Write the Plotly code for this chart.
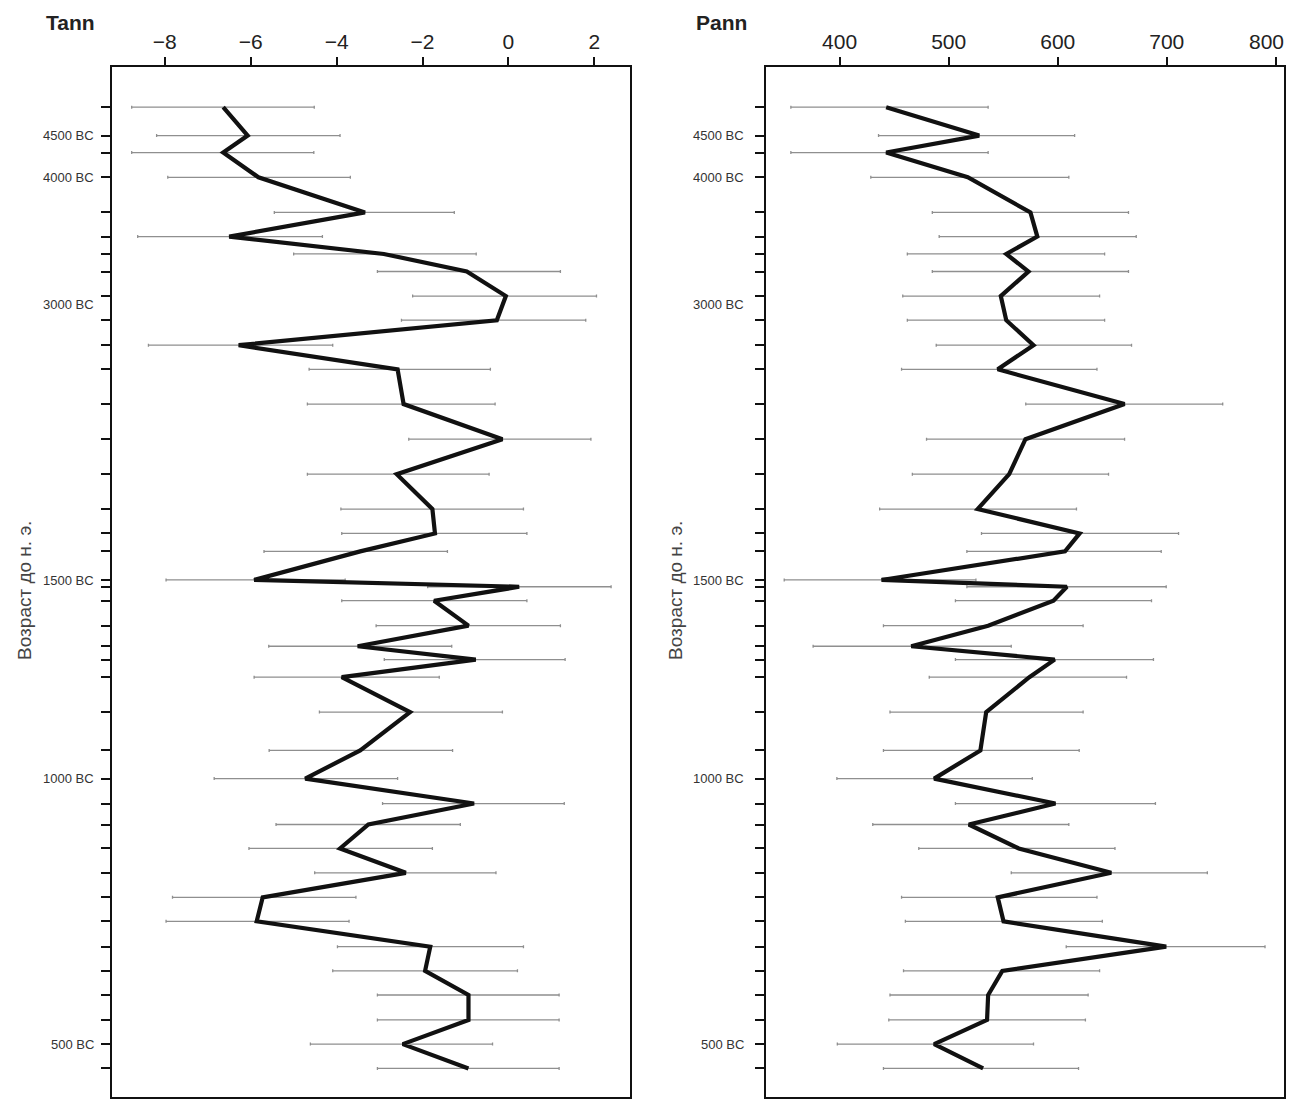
import plotly.graph_objects as go

# page is rendered with an 8px body margin, so the figure is offset by it
OFF = 8
W, H = 1296 - 2 * OFF, 1107 - 2 * OFF

# Sample depths (arbitrary depth units), one per reconstructed sample
depth = [3.7, 17.9, 26.4, 38.8, 56.4, 68.5, 77.2, 86.0, 98.3, 110.4,
         122.9, 135.0, 152.4, 170.0, 187.5, 205.0, 217.2, 226.2, 240.5, 243.9,
         250.9, 263.4, 273.7, 280.4, 289.2, 306.7, 325.9, 340.0, 352.5, 363.0,
         375.0, 387.2, 399.5, 411.5, 424.2, 436.3, 448.4, 460.9, 473.0, 485.2]

# Age tick labels (depth position, text)
age_depth = [17.9, 38.8, 102.5, 241.0, 340.0, 473.0]
age_text = ["4500 BC", "4000 BC", "3000 BC", "1500 BC", "1000 BC", "500 BC"]

# x tick values
tann_ticks = [-8, -6, -4, -2, 0, 2]
pann_ticks = [400, 500, 600, 700, 800]

# Tann: mean annual temperature reconstruction (°C)
tann = [-6.64, -6.07, -6.64, -5.82, -3.34, -6.50, -2.90, -0.97, -0.06, -0.27,
        -6.28, -2.58, -2.44, -0.14, -2.60, -1.77, -1.71, -3.45, -5.92, 0.25,
        -1.73, -0.93, -3.51, -0.76, -3.88, -2.29, -3.45, -4.73, -0.80, -3.26,
        -3.92, -2.39, -5.72, -5.86, -1.82, -1.94, -0.93, -0.93, -2.46, -0.93]
tann_low = [-8.77, -8.19, -8.77, -7.93, -5.45, -8.63, -5.00, -3.05, -2.23, -2.49,
            -8.38, -4.64, -4.68, -2.32, -4.68, -3.90, -3.88, -5.69, -7.97, -1.88,
            -3.88, -3.08, -5.58, -2.89, -5.92, -4.40, -5.57, -6.85, -2.93, -5.41,
            -6.04, -4.51, -7.82, -7.97, -3.98, -4.09, -3.05, -3.05, -4.61, -3.05]
tann_high = [-4.52, -3.92, -4.53, -3.68, -1.26, -4.33, -0.75, 1.21, 2.05, 1.80,
             -4.09, -0.42, -0.31, 1.92, -0.45, 0.35, 0.43, -1.42, -3.80, 2.39,
             0.43, 1.21, -1.32, 1.32, -1.61, -0.14, -1.30, -2.58, 1.30, -1.12,
             -1.77, -0.29, -3.55, -3.71, 0.35, 0.21, 1.18, 1.18, -0.37, 1.18]

# Pann: annual precipitation reconstruction (mm)
pann = [442.7, 528.0, 442.7, 517.5, 575.0, 581.3, 552.8, 573.2, 547.8, 552.8,
        577.8, 545.0, 661.3, 570.4, 555.5, 526.6, 620.1, 606.7, 438.4, 608.4,
        596.1, 536.2, 465.7, 597.2, 574.0, 534.4, 529.1, 486.7, 597.9, 518.5,
        564.3, 649.1, 545.0, 550.3, 699.5, 549.2, 536.2, 535.2, 486.7, 531.6]
pann_low = [355.3, 435.7, 355.3, 428.6, 485.0, 491.3, 462.1, 485.0, 457.9, 462.1,
            488.6, 456.8, 570.7, 479.7, 466.7, 436.7, 530.1, 516.7, 349.2, 516.7,
            506.2, 440.2, 375.7, 506.2, 482.2, 446.2, 440.2, 397.5, 506.2, 430.4,
            472.6, 557.4, 456.8, 460.3, 607.8, 458.6, 446.2, 445.1, 397.9, 440.2]
pann_high = [536.2, 615.5, 536.2, 610.2, 664.9, 672.0, 643.0, 664.9, 638.4, 643.0,
             667.7, 636.0, 751.3, 661.3, 646.6, 617.2, 710.8, 694.9, 525.0, 699.5,
             686.0, 623.3, 557.4, 687.8, 663.1, 623.3, 619.7, 576.7, 689.6, 610.2,
             652.5, 737.2, 636.0, 640.9, 790.1, 638.4, 627.9, 625.4, 577.8, 619.1]

FONT = "Arial, Liberation Sans, Helvetica, sans-serif"


def px(x):
    return (x - OFF) / W


def py(y):
    return max(0.0, 1 - (y - OFF) / H)


def err(mean, low, high):
    return dict(type="data", symmetric=False,
                array=[h - m for m, h in zip(mean, high)],
                arrayminus=[m - l for m, l in zip(mean, low)],
                color="#8f8f8f", thickness=1.3, width=1.5)


fig = go.Figure()
panels = [(tann, tann_low, tann_high, "x", "y"),
          (pann, pann_low, pann_high, "x2", "y2")]
for mean, low, high, xa, ya in panels:
    fig.add_trace(go.Scatter(x=mean, y=depth, mode="markers", xaxis=xa, yaxis=ya,
                             marker=dict(size=1, color="rgba(0,0,0,0)"),
                             error_x=err(mean, low, high), hoverinfo="skip",
                             showlegend=False))
    fig.add_trace(go.Scatter(x=mean, y=depth, mode="lines", xaxis=xa, yaxis=ya,
                             line=dict(color="#111111", width=4.2),
                             showlegend=False))

ydom = [py(1099), py(67)]
tickfont = dict(family=FONT, size=21, color="#222")
common_x = dict(side="top", showline=True, linecolor="#111", linewidth=1.6, mirror=True,
                ticks="outside", ticklen=8, tickwidth=1.6, tickcolor="#111",
                showgrid=False, zeroline=False, tickfont=tickfont)
common_y = dict(range=[499.5, -16.5], showline=True, linecolor="#111", linewidth=1.6,
                mirror=True, ticks="outside", ticklen=9, tickwidth=2, tickcolor="#111",
                tickvals=depth, showticklabels=False, showgrid=False, zeroline=False,
                domain=ydom)

pann_range = [332.5, 807.5]
fig.update_layout(
    width=W, height=H, margin=dict(l=0, r=0, t=0, b=0),
    paper_bgcolor="white", plot_bgcolor="white",
    xaxis=dict(common_x, domain=[px(111.5), px(630)], range=[-9.24, 2.83],
               tickvals=tann_ticks, anchor="y"),
    xaxis2=dict(common_x, domain=[px(766), px(1284)], range=pann_range,
                tickvals=pann_ticks,
                ticktext=[str(v) for v in pann_ticks[:-1]] + [""], anchor="y2"),
    yaxis=dict(common_y, anchor="x"),
    yaxis2=dict(common_y, anchor="x2"),
)

ann = []
# last Pann tick label sits at the page edge: placed as text on the x2 scale, nudged inside
ann.append(dict(text=str(pann_ticks[-1]), x=pann_ticks[-1], xref="x2", y=py(42), yref="paper",
                xanchor="center", yanchor="middle", xshift=-9, showarrow=False,
                font=tickfont))
for title, xt in [("Tann", 44), ("Pann", 694)]:
    ann.append(dict(text="<b>%s</b>" % title, x=px(xt), y=py(23), xref="paper", yref="paper",
                    xanchor="left", yanchor="middle", showarrow=False,
                    font=dict(family=FONT, size=21, color="#222")))
for xlab, ya, xt in [(96, "y", 25), (746, "y2", 676)]:
    for d, t in zip(age_depth, age_text):
        ann.append(dict(text=t, x=px(xlab), y=d, xref="paper", yref=ya,
                        xanchor="right", yanchor="middle", showarrow=False,
                        font=dict(family=FONT, size=13, color="#333")))
    ann.append(dict(text="Возраст до н. э.", x=px(xt), y=py(592), xref="paper", yref="paper",
                    textangle=-90, xanchor="center", yanchor="middle", showarrow=False,
                    font=dict(family=FONT, size=19, color="#444")))
fig.update_layout(annotations=ann)

fig.write_html("out.html", config={"displayModeBar": False})
